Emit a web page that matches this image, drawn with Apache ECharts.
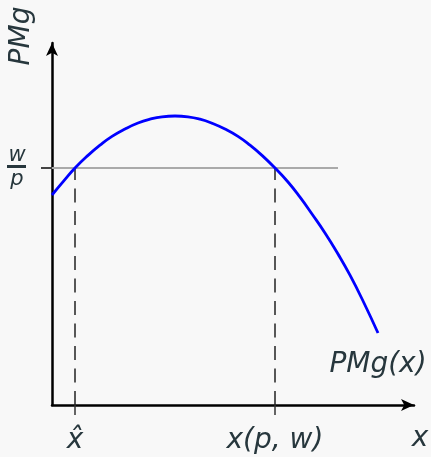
<!DOCTYPE html>
<html lang="en">
<head>
    <meta charset="UTF-8">
    <title>PMg</title>
    <style>
        html, body { margin: 0; padding: 0; background: #f8f8f8; }
    </style>
</head>
<body>
<div id="pmg" style="width: 431px;height:457px;"></div>
<script src="https://cdn.jsdelivr.net/npm/echarts@6/dist/echarts.min.js"></script>
<script>
    // curve (x, PMg)
    var curveX = [0, 0.6, 1.15, 1.8, 2.4, 3.0, 3.65, 4.3, 4.9, 5.5, 6.15, 6.8, 7.4, 8.0, 8.65, 9.3, 9.9, 10.5, 11.15, 11.8, 12.4, 13.0, 13.65, 14.3, 14.9, 15.6, 16.3];
    var curveY = [10.5, 11.22, 11.85, 12.48, 12.99, 13.43, 13.8, 14.1, 14.29, 14.41, 14.45, 14.41, 14.29, 14.09, 13.8, 13.43, 12.99, 12.48, 11.85, 11.15, 10.39, 9.55, 8.6, 7.55, 6.49, 5.1, 3.6];

    var wOverP = 11.85;        // level of the w/p line
    var xHat = 1.15;           // first crossing
    var xPW = 11.15;           // second crossing, x(p, w)
    var wpLineEnd = 14.3;      // where the grey line stops
    var xTickLabels = ['x\u0302', 'x(p, w)'];

    var ink = '#27373d';
    var font = 'DejaVu Sans';

    var points = [];
    for (var i = 0; i < curveX.length; i++) {
        points.push([curveX[i], curveY[i]]);
    }

    var myChart = echarts.init(document.getElementById('pmg'));
    myChart.setOption({
        backgroundColor: '#f8f8f8',
        animation: false,
        grid: { left: 52, right: 17, top: 43, bottom: 52 },
        xAxis: {
            type: 'value', min: 0, max: 18.1,
            splitLine: { show: false },
            axisLine: { lineStyle: { color: '#000', width: 2.5 }, symbol: ['none', 'arrow'], symbolSize: [9, 13] },
            axisTick: { show: true, customValues: [xHat, xPW], length: 10, lineStyle: { color: '#333', width: 1.5 } },
            axisLabel: {
                customValues: [xHat, xPW],
                margin: 22,
                fontFamily: font, fontStyle: 'italic', fontSize: 28, color: ink,
                formatter: function (v) {
                    return v === xHat ? xTickLabels[0] : xTickLabels[1];
                }
            }
        },
        yAxis: {
            type: 'value', min: 0, max: 18.1,
            splitLine: { show: false },
            axisLine: { lineStyle: { color: '#000', width: 2.5 }, symbol: ['none', 'arrow'], symbolSize: [9, 13] },
            axisTick: { show: true, customValues: [wOverP], length: 11, lineStyle: { color: '#444', width: 2 } },
            axisLabel: { show: false }
        },
        series: [{
            name: 'PMg',
            type: 'line',
            data: points,
            smooth: true,
            showSymbol: false,
            lineStyle: { color: '#0000ff', width: 2.8 },
            z: 3,
            markLine: {
                silent: true,
                symbol: 'none',
                label: { show: false },
                z: 2,
                data: [
                    [{ coord: [0, wOverP], lineStyle: { color: '#aaa', width: 2, type: 'solid' } }, { coord: [wpLineEnd, wOverP] }],
                    [{ coord: [xHat, 0], lineStyle: { color: '#222', width: 1.5, type: [14, 8.5] } }, { coord: [xHat, wOverP] }],
                    [{ coord: [xPW, 0], lineStyle: { color: '#222', width: 1.5, type: [14, 8.5] } }, { coord: [xPW, wOverP] }]
                ]
            }
        }]
    });

    // w/p fraction sits beside the y axis, at the level of wOverP
    var wpY = myChart.convertToPixel({ yAxisIndex: 0 }, wOverP);
    myChart.setOption({
        graphic: [
            { type: 'text', x: 22, y: 36, rotation: Math.PI / 2,
              style: { text: 'PMg', font: 'italic 28px "DejaVu Sans"', fill: ink, align: 'center', verticalAlign: 'middle' } },
            { type: 'text', x: 420, y: 439,
              style: { text: 'x', font: 'italic 28px "DejaVu Sans"', fill: ink, align: 'center', verticalAlign: 'middle' } },
            { type: 'text', x: 378, y: 365,
              style: { text: 'PMg(x)', font: 'italic 28px "DejaVu Sans"', fill: ink, align: 'center', verticalAlign: 'middle' } },
            { type: 'text', x: 17, y: wpY - 2,
              style: { text: 'w', font: 'italic 21px "DejaVu Sans"', fill: ink, align: 'center', verticalAlign: 'bottom' } },
            { type: 'rect', shape: { x: 7, y: wpY - 3, width: 19, height: 3 }, style: { fill: ink } },
            { type: 'text', x: 17, y: wpY + 1,
              style: { text: 'p', font: 'italic 21px "DejaVu Sans"', fill: ink, align: 'center', verticalAlign: 'top' } }
        ]
    });
</script>
</body>
</html>
